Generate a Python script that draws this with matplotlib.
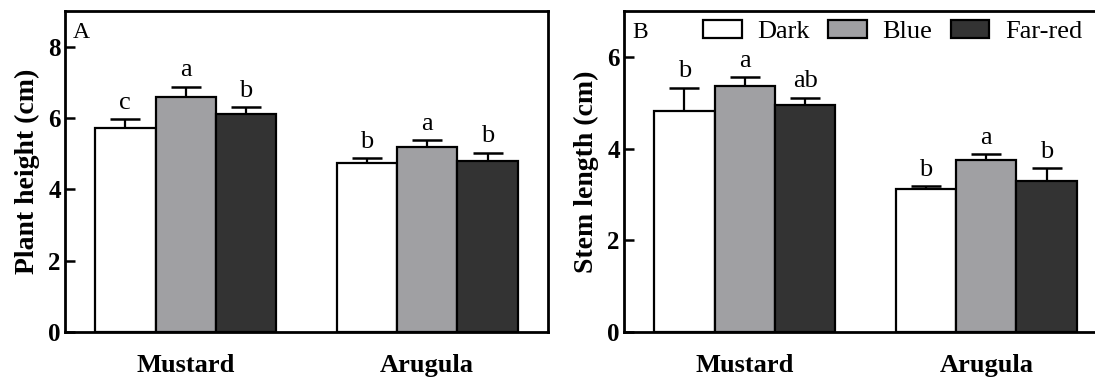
import matplotlib
matplotlib.use('Agg')
import matplotlib.pyplot as plt
import numpy as np

plt.rcParams['font.family'] = ['Liberation Serif', 'DejaVu Serif']

crops = ['Mustard', 'Arugula']
treatments = ['Dark', 'Blue', 'Far-red']
colors = ['#ffffff', '#a0a0a3', '#333333']

# plant height (cm), mean and SE per treatment
height_mean = [[5.71, 4.73], [6.58, 5.19], [6.11, 4.80]]
height_se = [[0.25, 0.14], [0.30, 0.18], [0.20, 0.23]]
height_letters = [['c', 'b'], ['a', 'a'], ['b', 'b']]

# stem length (cm)
stem_mean = [[4.81, 3.11], [5.36, 3.75], [4.96, 3.29]]
stem_se = [[0.52, 0.07], [0.20, 0.13], [0.15, 0.28]]
stem_letters = [['b', 'b'], ['a', 'a'], ['ab', 'b']]

W, H = 1095, 377
fig = plt.figure(figsize=(W / 100, H / 100), dpi=100)
axA = fig.add_axes([65 / W, 1 - 332 / H, 483 / W, 321 / H])
axB = fig.add_axes([624 / W, 1 - 332 / H, 483 / W, 321 / H])

x = np.arange(len(crops))
width = 0.25


def panel(ax, means, ses, letters, ylim, yticks, ylabel, tag):
    bars = []
    for i, t in enumerate(treatments):
        pos = x + (i - 1) * width
        b = ax.bar(pos, means[i], width, color=colors[i], edgecolor='black',
                   linewidth=1.6, label=t, zorder=3)
        bars.append(b)
        ax.errorbar(pos, means[i], yerr=[np.zeros(len(crops)), ses[i]],
                    fmt='none', ecolor='black', elinewidth=1.6, capsize=10.5,
                    capthick=1.8, zorder=2)
        for p, m, s, l in zip(pos, means[i], ses[i], letters[i]):
            ax.annotate(l, (p, m + s), xytext=(0, 7.5), textcoords='offset points',
                        ha='center', va='baseline', fontsize=19)
    ax.set_xlim(-0.5, 1.5)
    ax.set_ylim(*ylim)
    ax.set_yticks(yticks)
    ax.set_xticks(x)
    ax.set_xticklabels(crops, fontsize=19, fontweight='bold')
    ax.tick_params(axis='x', length=0, pad=16)
    ax.tick_params(axis='y', direction='in', length=7, width=1.8, labelsize=18, pad=3)
    for lab in ax.get_yticklabels():
        lab.set_fontweight('bold')
    for sp in ax.spines.values():
        sp.set_linewidth(2.0)
    ax.set_ylabel(ylabel, fontsize=20, fontweight='bold', labelpad=6)
    ax.text(0.017, 0.965, tag, transform=ax.transAxes, fontsize=17,
            ha='left', va='top')
    return bars


panel(axA, height_mean, height_se, height_letters, (0, 9), [0, 2, 4, 6, 8],
      'Plant height (cm)', 'A')
bars = panel(axB, stem_mean, stem_se, stem_letters, (0, 7), [0, 2, 4, 6],
             'Stem length (cm)', 'B')

axB.legend(handles=bars, labels=treatments, loc='upper left',
           bbox_to_anchor=(0.115, 1.045), ncol=3, frameon=False, fontsize=19,
           handlelength=1.45, handleheight=0.63, handletextpad=0.6,
           columnspacing=0.7)

fig.savefig('out.png', dpi=100)
